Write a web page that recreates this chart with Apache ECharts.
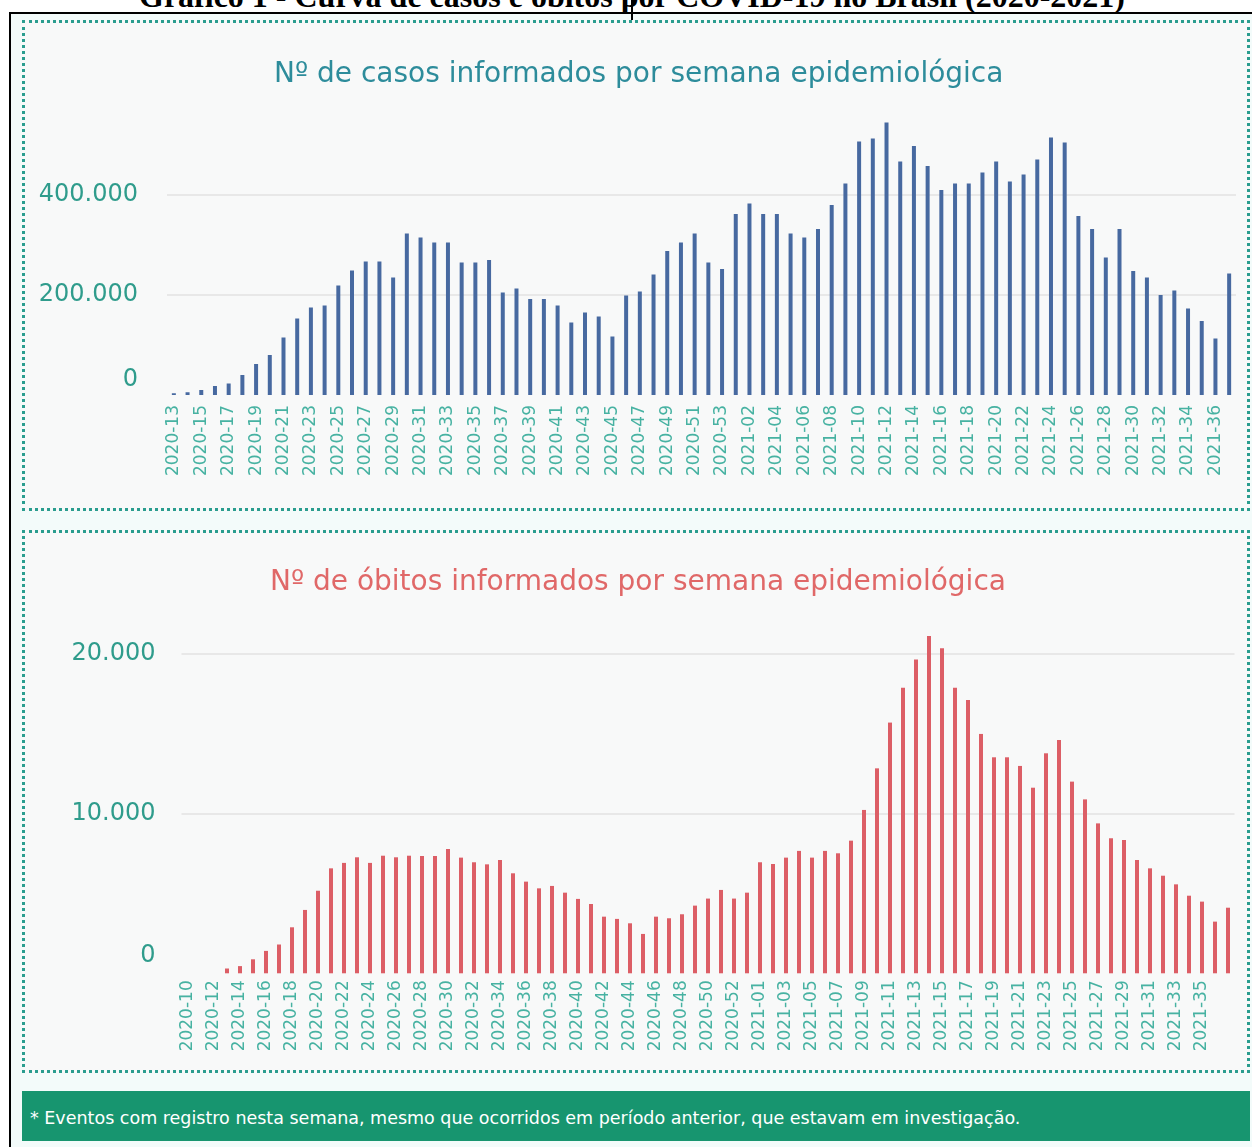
<!DOCTYPE html>
<html>
<head>
<meta charset="utf-8">
<script src="https://cdn.jsdelivr.net/npm/echarts@6/dist/echarts.min.js"></script>
<style>
    body{margin:0;width:1252px;height:1147px;overflow:hidden;background:#fff;position:relative;}
    #titulo{position:absolute;top:-20px;left:0;width:1264px;text-align:center;font:bold 32px 'Liberation Serif',serif;line-height:32px;color:#000;white-space:nowrap;}
    #traco{position:absolute;left:631px;top:0;width:2px;height:21px;background:#000;}
    #moldura{position:absolute;left:9px;top:12px;width:1243px;height:1135px;border-left:2px solid #000;border-top:2px solid #000;background:#f3fbfa;box-sizing:border-box;}
    .caixa{position:absolute;left:22px;width:1228px;border:3px dotted #2a9d8f;background:#f8f9f9;box-sizing:border-box;}
    #caixa1{top:20px;height:491px;}
    #caixa2{top:530px;height:543px;}
    #rodape{position:absolute;left:22px;top:1091px;width:1228px;height:50px;background:#17956f;color:#fff;font:17.5px 'DejaVu Sans',sans-serif;line-height:55px;padding-left:8px;box-sizing:border-box;white-space:nowrap;overflow:hidden;}
    #grafico{position:absolute;left:0;top:0;width:1252px;height:1147px;}
</style>
</head>
<body>
<div id="moldura"></div>
<div id="titulo">Gráfico 1 - Curva de casos e óbitos por COVID-19 no Brasil (2020-2021)</div>
<div id="traco"></div>
<div class="caixa" id="caixa1"></div>
<div class="caixa" id="caixa2"></div>
<div id="rodape">* Eventos com registro nesta semana, mesmo que ocorridos em período anterior, que estavam em investigação.</div>
<div id="grafico"></div>
<script>
    // semanas epidemiológicas - casos
    const semanasCasos = [
        '2020-13','2020-14','2020-15','2020-16','2020-17','2020-18','2020-19','2020-20','2020-21','2020-22',
        '2020-23','2020-24','2020-25','2020-26','2020-27','2020-28','2020-29','2020-30','2020-31','2020-32',
        '2020-33','2020-34','2020-35','2020-36','2020-37','2020-38','2020-39','2020-40','2020-41','2020-42',
        '2020-43','2020-44','2020-45','2020-46','2020-47','2020-48','2020-49','2020-50','2020-51','2020-52',
        '2020-53','2021-01','2021-02','2021-03','2021-04','2021-05','2021-06','2021-07','2021-08','2021-09',
        '2021-10','2021-11','2021-12','2021-13','2021-14','2021-15','2021-16','2021-17','2021-18','2021-19',
        '2021-20','2021-21','2021-22','2021-23','2021-24','2021-25','2021-26','2021-27','2021-28','2021-29',
        '2021-30','2021-31','2021-32','2021-33','2021-34','2021-35','2021-36','2021-37'
    ];
    const casos = [
        3500, 5500, 10000, 18000, 23000, 40000, 62000, 80000, 115000, 153000,
        175000, 179000, 219000, 249000, 267000, 267000, 235000, 323000, 315000, 305000,
        305000, 265000, 265000, 270000, 205000, 213000, 192000, 192000, 179000, 145000,
        165000, 157000, 117000, 199000, 207000, 241000, 288000, 305000, 323000, 265000,
        252000, 362000, 383000, 362000, 362000, 323000, 315000, 332000, 380000, 423000,
        507000, 513000, 545000, 467000, 498000, 458000, 410000, 423000, 423000, 445000,
        467000, 427000, 441000, 471000, 515000, 505000, 358000, 332000, 275000, 332000,
        248000, 235000, 200000, 209000, 173000, 148000, 113000, 243000
    ];

    // semanas epidemiológicas - óbitos
    const semanasObitos = [
        '2020-10','2020-11','2020-12','2020-13','2020-14','2020-15','2020-16','2020-17','2020-18','2020-19',
        '2020-20','2020-21','2020-22','2020-23','2020-24','2020-25','2020-26','2020-27','2020-28','2020-29',
        '2020-30','2020-31','2020-32','2020-33','2020-34','2020-35','2020-36','2020-37','2020-38','2020-39',
        '2020-40','2020-41','2020-42','2020-43','2020-44','2020-45','2020-46','2020-47','2020-48','2020-49',
        '2020-50','2020-51','2020-52','2020-53','2021-01','2021-02','2021-03','2021-04','2021-05','2021-06',
        '2021-07','2021-08','2021-09','2021-10','2021-11','2021-12','2021-13','2021-14','2021-15','2021-16',
        '2021-17','2021-18','2021-19','2021-20','2021-21','2021-22','2021-23','2021-24','2021-25','2021-26',
        '2021-27','2021-28','2021-29','2021-30','2021-31','2021-32','2021-33','2021-34','2021-35','2021-36',
        '2021-37'
    ];
    const obitos = [
        0, 0, 0, 300, 450, 875, 1400, 1800, 2875, 3960,
        5160, 6560, 6900, 7250, 6900, 7350, 7250, 7350, 7330, 7330,
        7770, 7230, 6940, 6810, 7080, 6250, 5730, 5310, 5460, 5040,
        4650, 4330, 3540, 3400, 3125, 2460, 3540, 3440, 3690, 4230,
        4670, 5210, 4670, 5040, 6940, 6830, 7230, 7650, 7230, 7650,
        7500, 8290, 10210, 12810, 15670, 17850, 19620, 21080, 20310, 17850,
        17080, 14960, 13500, 13500, 12960, 11600, 13750, 14580, 11980, 10870,
        9370, 8440, 8330, 7080, 6560, 6100, 5560, 4850, 4480, 3230,
        4100
    ];

    const corEixoY = '#2f9c8c';
    const corEixoX = '#47b2a2';
    const corGrade = '#e8e8e8';

    function milhar(v){
        return String(v).replace(/\B(?=(\d{3})+(?!\d))/g, '.');
    }
    function rotuloY(v){
        return v === 0 ? '{z|0}' : milhar(v);
    }

    const myCharts = echarts.init(document.getElementById('grafico'));
    let options = {
        animation: false,
        title: [
            {
                text: 'Nº de casos informados por semana epidemiológica',
                left: 269, top: 56,
                textStyle: {color: '#2d8c9b', fontSize: 28, fontWeight: 'normal', fontFamily: 'DejaVu Sans'}
            },
            {
                text: 'Nº de óbitos informados por semana epidemiológica',
                left: 265, top: 564,
                textStyle: {color: '#e06868', fontSize: 28, fontWeight: 'normal', fontFamily: 'DejaVu Sans'}
            }
        ],
        grid: [
            {left: 167, top: 115, width: 1069, height: 280},
            {left: 181.5, top: 621.3, width: 1053, height: 352}
        ],
        xAxis: [
            {
                type: 'category', gridIndex: 0, data: semanasCasos,
                axisLine: {show: false}, axisTick: {show: false},
                axisLabel: {rotate: 90, interval: 1, margin: 10, color: corEixoX, fontSize: 17, fontFamily: 'DejaVu Sans'}
            },
            {
                type: 'category', gridIndex: 1, data: semanasObitos,
                axisLine: {show: false}, axisTick: {show: false},
                axisLabel: {
                    rotate: 90, margin: 7, color: corEixoX, fontSize: 17, fontFamily: 'DejaVu Sans',
                    interval: function(idx){ return idx % 2 === 0 && idx < semanasObitos.length - 1; }
                }
            }
        ],
        yAxis: [
            {
                type: 'value', gridIndex: 0, min: 0, max: 560000, interval: 200000,
                axisLine: {show: false}, axisTick: {show: false},
                splitLine: {lineStyle: {color: ['transparent', corGrade, corGrade, 'transparent'], width: 2}},
                axisLabel: {
                    showMaxLabel: false, margin: 29, color: corEixoY, fontSize: 24, fontFamily: 'DejaVu Sans',
                    formatter: rotuloY,
                    rich: {z: {padding: [0, 0, 30, 0], fontSize: 24, color: corEixoY, fontFamily: 'DejaVu Sans'}}
                }
            },
            {
                type: 'value', gridIndex: 1, min: 0, max: 22000, interval: 10000,
                axisLine: {show: false}, axisTick: {show: false},
                splitLine: {lineStyle: {color: ['transparent', corGrade, corGrade, 'transparent'], width: 2}},
                axisLabel: {
                    showMaxLabel: false, margin: 26, color: corEixoY, fontSize: 24, fontFamily: 'DejaVu Sans',
                    formatter: rotuloY,
                    rich: {z: {padding: [0, 0, 36, 0], fontSize: 24, color: corEixoY, fontFamily: 'DejaVu Sans'}}
                }
            }
        ],
        series: [
            {
                name: 'Casos', type: 'bar', xAxisIndex: 0, yAxisIndex: 0,
                data: casos, barWidth: 4,
                itemStyle: {color: '#4769a0'}
            },
            {
                name: 'Óbitos', type: 'bar', xAxisIndex: 1, yAxisIndex: 1,
                data: obitos, barWidth: 4,
                itemStyle: {color: '#dc5e66'}
            }
        ]
    };
    myCharts.setOption(options);
</script>
</body>
</html>
